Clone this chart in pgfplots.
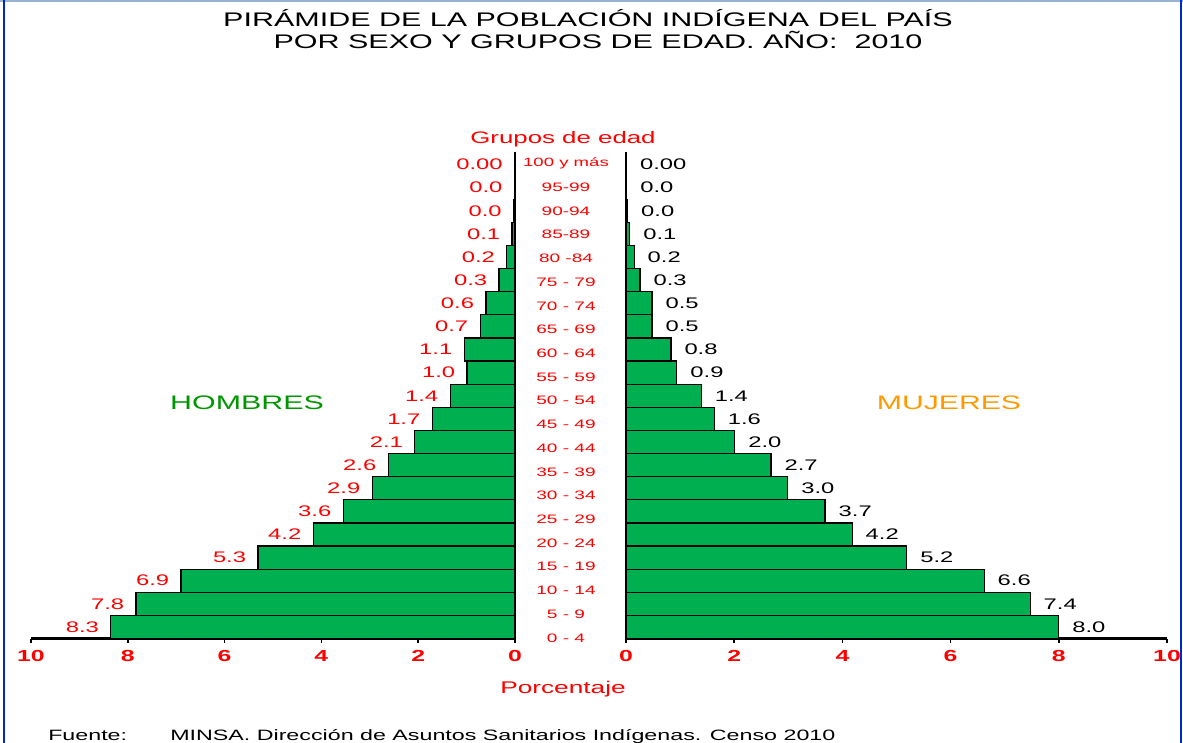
\documentclass[border=0pt]{standalone}
\usepackage{fontspec}
\setmainfont{Liberation Sans}[FakeStretch=1.55]
\usepackage{pgfplots}
\pgfplotsset{compat=1.18}
\usepackage{pgfplotstable}
\definecolor{bargreen}{RGB}{0,176,80}
\definecolor{hgreen}{RGB}{0,150,0}
\definecolor{morange}{RGB}{255,153,0}
\definecolor{frameblue}{RGB}{0,40,200}
\definecolor{topblue}{RGB}{150,180,210}

\pgfplotstableread{
val idx lab
8.35 0 8.3
7.83 1 7.8
6.90 2 6.9
5.31 3 5.3
4.17 4 4.2
3.55 5 3.6
2.95 6 2.9
2.62 7 2.6
2.07 8 2.1
1.71 9 1.7
1.34 10 1.4
0.99 11 1.0
1.05 12 1.1
0.72 13 0.7
0.60 14 0.6
0.33 15 0.3
0.17 16 0.2
0.06 17 0.1
0.03 18 0.0
0.015 19 0.0
0.01 20 0.00
}\hombres

\pgfplotstableread{
val idx lab
8.00 0 8.0
7.47 1 7.4
6.62 2 6.6
5.19 3 5.2
4.18 4 4.2
3.68 5 3.7
2.99 6 3.0
2.68 7 2.7
2.01 8 2.0
1.63 9 1.6
1.39 10 1.4
0.94 11 0.9
0.83 12 0.8
0.48 13 0.5
0.48 14 0.5
0.26 15 0.3
0.15 16 0.2
0.07 17 0.1
0.03 18 0.0
0.015 19 0.0
0.01 20 0.00
}\mujeres

\pgfplotsset{pyr/.style={
  scale only axis, height=364.125pt,
  xmin=0, xmax=10, ymin=-0.5, ymax=20.5,
  xbar, bar width=1,
  axis x line*=bottom,
  xtick={0,2,...,10},
  tick align=outside,
  xtick style={black, line width=1.2pt},
  major tick length=3pt,
  x axis line style={line width=1.8pt,-},
  xticklabel style={text=red, font=\bfseries\fontsize{12}{13}\selectfont, yshift=-2.5pt},
  /pgf/number format/assume math mode=true,
  nodes near coords, point meta=explicit symbolic,
  clip=false,
}}

\begin{document}
\begin{tikzpicture}
\path[use as bounding box] (0,0) rectangle (887.25pt,-557.25pt);
% frame
\draw[topblue, line width=1.5pt] (0,-1pt) -- (887.25pt,-1pt);
\draw[frameblue, line width=1.5pt] (3pt,0) -- (3pt,-557.25pt);
\draw[frameblue, line width=1.5pt] (885.5pt,0) -- (885.5pt,-557.25pt);

% left axis (HOMBRES)
\begin{axis}[pyr, at={(23.25pt,-478.875pt)}, anchor=south west,
  width=363pt, x dir=reverse, axis y line=none, ytick=\empty,
  nodes near coords style={text=red, anchor=east, xshift=-8.5pt, inner sep=0pt,
    font=\fontsize{11.5}{12}\selectfont}]
\addplot[fill=bargreen, draw=black, line width=0.9pt] table[x=val, y=idx, meta=lab] {\hombres};
\draw[line width=1.2pt] (axis cs:0,-0.5) -- (axis cs:0,20.5);
\end{axis}

% right axis (MUJERES)
\begin{axis}[pyr, at={(469.5pt,-478.875pt)}, anchor=south west,
  width=405.75pt, axis y line*=left,
  y axis line style={line width=1.2pt,-},
  ytick={-0.474,0.552,1.578,2.604,3.630,4.656,5.682,6.708,7.733,8.759,9.785,10.811,11.837,12.863,13.889,14.915,15.941,16.966,17.992,19.018,20.044},
  yticklabels={0 - 4,5 - 9,10 - 14,15 - 19,20 - 24,25 - 29,30 - 34,35 - 39,40 - 44,45 - 49,50 - 54,55 - 59,60 - 64,65 - 69,70 - 74,75 - 79,80 -84,85-89,90-94,95-99,{\fontsize{9}{10}\selectfont 100 y más}},
  ytick style={draw=none},
  yticklabel style={text=red, anchor=center, xshift=-42pt, font=\fontsize{9.2}{10}\selectfont},
  nodes near coords style={text=black, anchor=west, xshift=9.75pt, inner sep=0pt,
    font=\fontsize{11.5}{12}\selectfont}]
\addplot[fill=bargreen, draw=black, line width=0.9pt] table[x=val, y=idx, meta=lab] {\mujeres};
\end{axis}

% texts
\node[font=\fontsize{14.75}{16}\selectfont] at (441pt,-13.5pt) {PIRÁMIDE DE LA POBLACIÓN INDÍGENA DEL PAÍS};
\node[font=\fontsize{14.75}{16}\selectfont] at (448.5pt,-30pt) {POR SEXO Y GRUPOS DE EDAD. AÑO:\ \ 2010};
\node[text=red, font=\fontsize{12.5}{13}\selectfont] at (422.25pt,-104.25pt) {Grupos de edad};
\node[text=hgreen, font=\fontsize{14.7}{15}\selectfont] at (185.25pt,-302.25pt) {HOMBRES};
\node[text=morange, font=\fontsize{14.6}{15}\selectfont] at (711.75pt,-302.25pt) {MUJERES};
\node[text=red, font=\fontsize{12.7}{13}\selectfont] at (422.25pt,-516.75pt) {Porcentaje};
\node[anchor=base west, inner sep=0pt, font=\fontsize{11.25}{12}\selectfont] at (36pt,-555.5pt) {Fuente:};
\node[anchor=base west, inner sep=0pt, font=\fontsize{11.25}{12}\selectfont] at (127.5pt,-555.5pt) {MINSA. Dirección de Asuntos Sanitarios Indígenas. Censo 2010};
\end{tikzpicture}
\end{document}
